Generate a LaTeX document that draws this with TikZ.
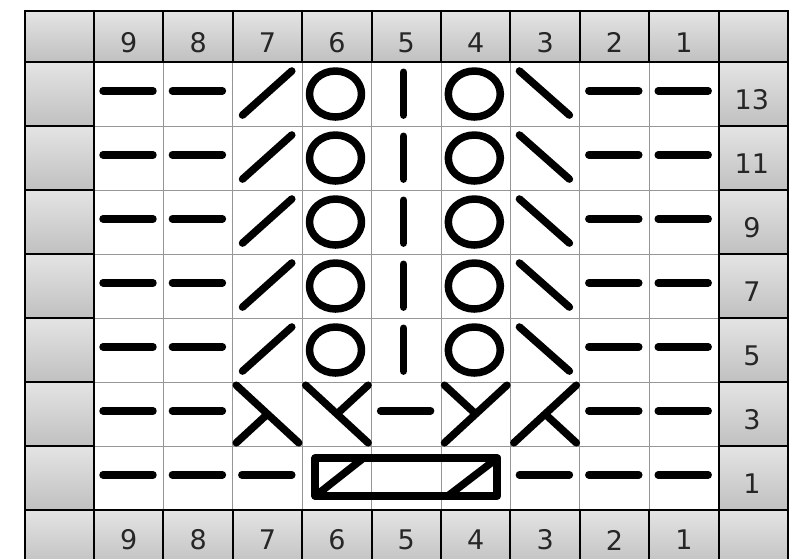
\documentclass[tikz,border=0pt]{standalone}
\usepackage{fontspec}
\setmainfont{DejaVu Sans}
\usepackage{xcolor}
\usepackage{tikz}
\usetikzlibrary{calc}
\definecolor{hdtop}{RGB}{228,228,228}
\definecolor{hdbot}{RGB}{192,192,192}
\definecolor{gridgray}{RGB}{150,150,150}
\tikzset{
  labelcell/.style={top color=hdtop, bottom color=hdbot, draw=black, line width=2pt},
  stitchline/.style={line width=7.5pt, line cap=round, line join=round},
  numlabel/.style={font=\fontsize{27}{27}\selectfont, text=black!85, inner sep=0pt}
}

\begin{document}
\begin{tikzpicture}[x=69.4pt, y=64pt]
  \useasboundingbox (-1.3545,0.969) rectangle (10.072,-7.75);
  \clip (-1.3545,0.969) rectangle (10.072,-7.75);
  % stitch cells
  \foreach \r in {0,...,6}{
    \foreach \c in {0,...,8}{
      \draw[gridgray, line width=1pt] (\c,-\r) rectangle ++(1,-1);
    }
  }
  % side cells with row numbers
  \foreach \r in {0,...,6}{
    \pgfmathtruncatemacro{\n}{13-2*\r}
    \shade[labelcell] (-1,-\r) rectangle ++(1,-1);
    \shade[labelcell] (9,-\r) rectangle ++(1,-1);
    \node[numlabel] (row\n) at (9.48,-\r-0.59) {\n};
  }
  % header and footer cells
  \foreach \c in {-1,...,9}{
    \shade[labelcell] (\c,0.8) rectangle ++(1,-0.8);
    \shade[labelcell] (\c,-7) rectangle ++(1,-0.9);
  }
  \foreach \c in {0,...,8}{
    \pgfmathtruncatemacro{\k}{9-\c}
    \node[numlabel] (top\k) at (\c+0.5,0.3) {\k};
    \node[numlabel] (bot\k) at (\c+0.5,-7.47) {\k};
  }
  % rows 13 to 5
  \foreach \r in {0,...,4}{
    \foreach \c in {0,1,7,8}{
      \draw[stitchline] (\c+0.13,-\r-0.45) -- (\c+0.85,-\r-0.45);
    }
    \draw[stitchline] (2.14,-\r-0.83) -- (2.85,-\r-0.14);
    \draw[stitchline] (3.48,-\r-0.5) ellipse [x radius=26pt, y radius=23pt];
    \draw[stitchline] (4.46,-\r-0.16) -- (4.46,-\r-0.83);
    \draw[stitchline] (5.48,-\r-0.5) ellipse [x radius=26pt, y radius=23pt];
    \draw[stitchline] (6.13,-\r-0.14) -- (6.85,-\r-0.83);
  }
  % row 3
  \foreach \c in {0,1,4,7,8}{
    \draw[stitchline] (\c+0.13,-5.45) -- (\c+0.85,-5.45);
  }
  \draw[stitchline] (2.05,-5.05) -- (2.95,-5.95) (2.05,-5.95) -- (2.5,-5.5);
  \draw[stitchline] (3.05,-5.05) -- (3.95,-5.95) (3.95,-5.05) -- (3.5,-5.5);
  \draw[stitchline] (5.05,-5.95) -- (5.95,-5.05) (5.05,-5.05) -- (5.5,-5.5);
  \draw[stitchline] (6.05,-5.95) -- (6.95,-5.05) (6.95,-5.95) -- (6.5,-5.5);
  % row 1
  \foreach \c in {0,1,2,6,7,8}{
    \draw[stitchline] (\c+0.13,-6.45) -- (\c+0.85,-6.45);
  }
  \draw[stitchline, line width=8pt, line cap=butt] (3.19,-6.19) rectangle (5.81,-6.78);
  \draw[stitchline] (3.19,-6.78) -- (3.88,-6.19);
  \draw[stitchline] (5.1,-6.78) -- (5.81,-6.19);
\end{tikzpicture}
\end{document}
